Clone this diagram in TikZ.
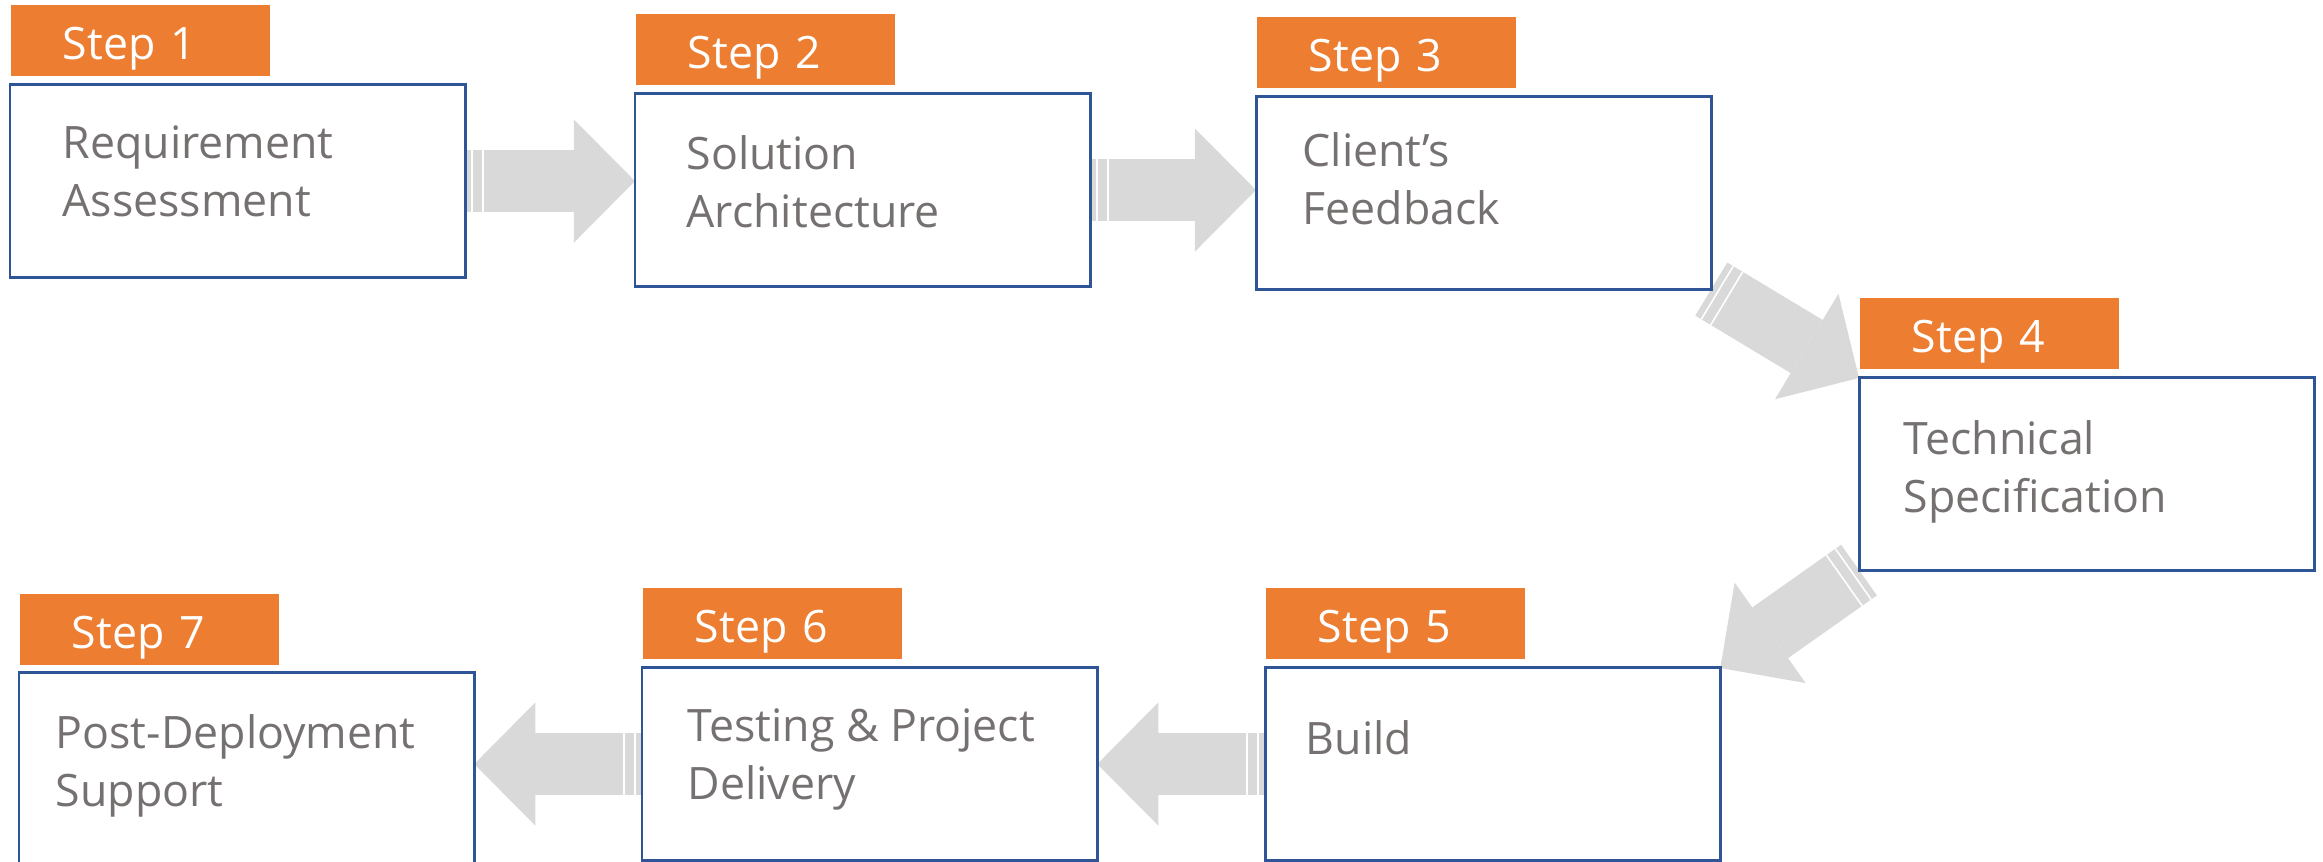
\documentclass[tikz,border=0pt]{standalone}
\usepackage{fontspec}
\setmainfont{Open Sans}
\usetikzlibrary{positioning,arrows.meta,decorations.markings}

\definecolor{steporange}{HTML}{ED7D31}
\definecolor{boxblue}{HTML}{2F5597}
\definecolor{labelgray}{HTML}{767171}
\definecolor{arrowgray}{HTML}{D9D9D9}

\pgfdeclarelayer{back}
\pgfsetlayers{back,main}

\begin{document}
\begin{tikzpicture}[x=0.01cm, y=-0.01cm,
  stepbox/.style = {rectangle, draw=boxblue, line width=0.85pt, minimum width=4.55cm, minimum height=1.92cm, anchor=north west, outer sep=0pt},
  tab/.style = {rectangle, fill=steporange, text=white, minimum height=0.71cm, text width=1.55cm, inner xsep=0.52cm, inner ysep=0pt, align=left, text height=0.37cm, text depth=0pt, font=\fontsize{12.7}{16.5}\selectfont},
  lbl/.style = {anchor=base west, align=left, inner sep=0pt, text=labelgray, font=\fontsize{12.7}{16.5}\selectfont},
  stripe/.style = {-, white, line width=0.45pt},
  flow/.style = {draw=arrowgray, line width=0.62cm, -{Triangle[length=0.61cm, width=1.23cm, line width=0pt]}, postaction={decorate},
    decoration={markings,
      mark=at position 0.07cm with {\draw[stripe] (0,-0.31cm) -- (0,0.31cm);},
      mark=at position 0.18cm with {\draw[stripe] (0,-0.31cm) -- (0,0.31cm);}}}]

\useasboundingbox (0,0) rectangle (2323,862);

\node[stepbox] (b1) at (10,85) {};
\node[stepbox] (b2) at (635,94) {};
\node[stepbox] (b3) at (1256,97) {};
\node[stepbox] (b4) at (1859,378) {};
\node[stepbox] (b5) at (1265,668) {};
\node[stepbox] (b6) at (642,668) {};
\node[stepbox] (b7) at (19,673) {};

\node[tab, above right=0.08cm and 0cm of b1.north west] (t1) {Step 1};
\node[tab, above right=0.08cm and 0cm of b2.north west] (t2) {Step 2};
\node[tab, above right=0.08cm and 0cm of b3.north west] (t3) {Step 3};
\node[tab, above right=0.08cm and 0cm of b4.north west] (t4) {Step 4};
\node[tab, above right=0.08cm and 0cm of b5.north west] (t5) {Step 5};
\node[tab, above right=0.08cm and 0cm of b6.north west] (t6) {Step 6};
\node[tab, above right=0.07cm and 0cm of b7.north west] (t7) {Step 7};

% base = last line
\node[lbl] (l1) at (62,217) {Requirement\\Assessment};
\node[lbl] (l2) at (686,228) {Solution\\Architecture};
\node[lbl] (l3) at (1302,225) {Client’s\\Feedback};
\node[lbl] (l4) at (1903,513) {Technical\\Specification};
\node[lbl] (l5) at (1305,755) {Build};
\node[lbl] (l6) at (687,800) {Testing \& Project\\Delivery};
\node[lbl] (l7) at (55,807) {Post-Deployment\\Support};

\begin{pgfonlayer}{back}
\draw[flow] (b1.east) -- (b1.east -| b2.west);
\draw[flow] (b2.east) -- (b2.east -| b3.west);
\draw[flow] (b3.south east) -- (b4.north west);
\draw[flow] (b4.south west) -- (b5.north east);
\draw[flow] (b5.west) -- (b5.west -| b6.east);
\draw[flow] (b6.west) -- (b6.west -| b7.east);
\end{pgfonlayer}

\end{tikzpicture}
\end{document}
